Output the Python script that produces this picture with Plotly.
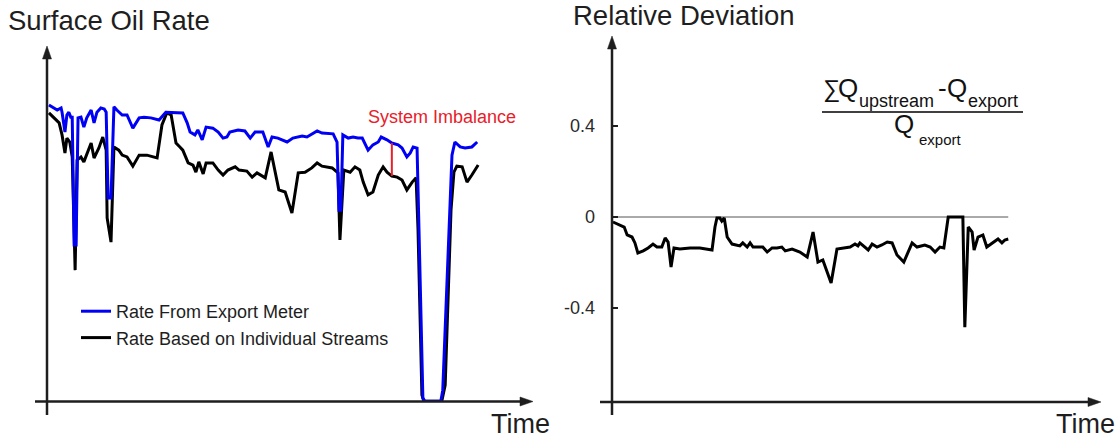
import numpy as np
import plotly.graph_objects as go

W, H = 1117, 441

# ---------------- data ----------------
# Left panel: surface oil rate, time in % of period, rate in % of scale
t_export = [0.4, 1.4, 2.1, 2.9, 3.1, 3.7, 4.1, 4.5, 4.9, 5.2, 5.6, 6.0, 6.4, 7.0, 7.6, 8.2, 9.1, 9.7,
            10.3, 11.1, 11.8, 12.2, 12.6, 13.2, 13.8, 14.4, 15.5, 16.5, 17.7, 19.0, 20.0, 21.4,
            23.1, 24.5, 26.8, 28.0, 28.9, 29.5, 30.5, 31.1, 32.0, 32.8, 34.2, 35.3, 36.3, 37.1,
            37.7, 39.4, 40.8, 41.9, 42.9, 44.5, 45.6, 46.4, 47.6, 49.5, 50.7, 52.6, 53.6, 54.6,
            55.7, 56.7, 59.0, 59.8, 60.2, 60.6, 61.0, 62.1, 63.1, 64.1, 65.0, 66.2, 67.2, 68.3,
            68.9, 70.1, 71.1, 72.4, 73.2, 74.2, 74.9, 75.5, 76.3, 76.7, 77.1, 77.5, 77.9, 81.2,
            81.6, 82.3, 82.9, 83.5, 84.1, 85.2, 86.2, 87.6, 88.7]
rate_export = [83.5, 82.7, 82.1, 82.7, 81.5, 75.9, 80.7, 81.5, 80.1, 80.1, 44.1, 44.1, 79.9, 80.1,
               77.3, 79.9, 82.1, 78.5, 81.5, 82.7, 82.4, 81.5, 57.3, 57.3, 83.0, 82.1, 80.7, 80.7,
               77.0, 79.9, 80.1, 79.9, 79.3, 81.5, 81.5, 81.3, 78.5, 75.9, 75.1, 76.5, 73.7, 77.3,
               77.0, 75.9, 74.2, 74.5, 75.9, 76.5, 76.2, 74.2, 75.9, 75.9, 71.7, 74.5, 74.2, 73.1,
               74.2, 74.8, 74.5, 75.4, 76.2, 75.6, 75.4, 73.1, 53.9, 53.9, 75.1, 74.2, 74.5, 74.2,
               74.2, 70.8, 72.3, 73.1, 74.5, 73.7, 72.8, 72.3, 71.4, 68.9, 70.0, 71.7, 71.4, 48.3,
               20.1, 1.0, 0.1, 0.1, 3.2, 28.6, 52.5, 69.4, 73.1, 71.7, 71.4, 71.7, 73.1]

t_streams = [0.4, 1.9, 2.5, 3.1, 3.7, 4.1, 4.7, 5.2, 5.8, 6.2, 7.0, 7.6, 9.1, 9.7, 10.7, 11.5, 12.2,
             12.4, 13.2, 13.8, 14.8, 15.5, 16.5, 17.7, 19.0, 20.6, 22.7, 23.7, 24.7, 25.6, 26.6,
             27.4, 28.0, 29.1, 30.1, 30.7, 31.3, 32.2, 32.8, 34.2, 35.3, 36.3, 37.3, 38.8, 39.6,
             41.2, 42.3, 43.3, 45.0, 46.2, 47.0, 47.8, 49.1, 50.5, 51.8, 53.2, 54.6, 55.7, 56.7,
             58.8, 60.0, 60.4, 61.2, 62.5, 63.5, 64.5, 65.2, 66.2, 67.2, 68.3, 69.3, 70.1, 71.1,
             72.2, 73.2, 74.2, 75.3, 76.1, 76.5, 76.9, 77.3, 77.7, 81.4, 82.1, 82.7, 83.3, 83.9,
             84.5, 85.6, 86.6, 87.6, 88.9]
rate_streams = [81.3, 79.3, 78.5, 75.1, 70.0, 74.2, 73.1, 68.9, 37.0, 68.0, 68.9, 67.5, 72.8, 68.6,
                71.4, 74.5, 70.8, 51.7, 44.9, 71.7, 70.8, 69.4, 68.9, 66.3, 69.4, 69.4, 68.6, 77.9,
                81.3, 80.7, 72.8, 71.7, 70.8, 67.2, 66.6, 64.6, 67.5, 64.1, 67.2, 67.2, 65.2, 63.8,
                65.2, 66.1, 65.2, 64.9, 63.2, 64.4, 63.0, 70.3, 64.6, 59.6, 59.0, 53.1, 64.4, 64.6,
                65.8, 67.2, 66.3, 65.8, 64.4, 45.5, 65.2, 64.6, 66.1, 65.2, 61.8, 58.2, 59.0, 63.8,
                66.1, 64.6, 63.5, 63.2, 62.4, 59.6, 61.8, 63.0, 48.3, 23.0, 1.8, 0.1, 0.1, 4.6,
                31.4, 53.9, 64.6, 66.3, 66.1, 61.8, 63.8, 66.6]

imbalance_time = 71.1

# Right panel: relative deviation
t_dev = [0.2, 0.6, 1.6, 2.5, 3.1, 4.1, 4.7, 5.3, 6.4, 7.4, 8.4, 9.2, 10.2, 10.9, 11.5, 12.1, 12.7,
         13.9, 16.0, 18.0, 20.5, 21.1, 21.5, 22.1, 22.5, 23.0, 23.6, 24.6, 26.2, 26.8, 27.7, 28.3,
         28.9, 30.9, 31.8, 32.8, 33.8, 34.8, 35.5, 36.9, 38.5, 40.0, 41.2, 42.2, 43.2, 44.9, 46.1,
         47.3, 48.8, 49.8, 50.4, 50.8, 52.5, 53.3, 54.3, 55.3, 56.4, 57.4, 58.4, 59.8, 61.5, 62.5,
         64.1, 65.2, 66.2, 67.2, 68.0, 68.9, 71.9, 72.3, 73.0, 73.8, 74.2, 75.0, 76.0, 76.8, 78.1,
         79.1, 79.9, 80.5, 81.2]
rel_dev = [-0.022, -0.026, -0.035, -0.044, -0.079, -0.088, -0.114, -0.158, -0.149, -0.136, -0.119,
           -0.132, -0.132, -0.092, -0.110, -0.220, -0.136, -0.141, -0.136, -0.136, -0.145, -0.044,
           -0.004, -0.004, -0.018, -0.004, -0.088, -0.119, -0.127, -0.114, -0.132, -0.114, -0.132,
           -0.132, -0.154, -0.136, -0.136, -0.132, -0.149, -0.141, -0.154, -0.176, -0.066, -0.198,
           -0.189, -0.290, -0.141, -0.136, -0.132, -0.119, -0.127, -0.114, -0.145, -0.119, -0.132,
           -0.123, -0.110, -0.114, -0.167, -0.198, -0.114, -0.132, -0.123, -0.132, -0.154, -0.132,
           -0.136, 0.0, 0.0, -0.484, -0.044, -0.066, -0.145, -0.088, -0.079, -0.132, -0.110,
           -0.097, -0.114, -0.101, -0.097]
dev_ticks = [-0.4, 0.0, 0.4]
dev_tick_text = ["-0.4", "0", "0.4"]

# ---------------- helpers for layout placement (pixels -> paper) ----------------
def px(x):
    return x / W

def py(y):
    return 1 - y / H

FONT = "Liberation Sans, Arial, Helvetica, sans-serif"
AX = "#1e1e1e"

fig = go.Figure()
fig.add_trace(go.Scatter(x=t_streams, y=rate_streams, mode="lines",
                         line=dict(color="black", width=3),
                         name="Rate Based on Individual Streams", xaxis="x", yaxis="y"))
fig.add_trace(go.Scatter(x=t_export, y=rate_export, mode="lines",
                         line=dict(color="#0000f5", width=3),
                         name="Rate From Export Meter", xaxis="x", yaxis="y"))
fig.add_trace(go.Scatter(x=t_dev, y=rel_dev, mode="lines",
                         line=dict(color="black", width=3),
                         showlegend=False, xaxis="x2", yaxis="y2"))

hidden = dict(showgrid=False, zeroline=False, showline=False, showticklabels=False, ticks="")

shapes = []
def seg(x0, y0, x1, y1, color=AX, width=2.5):
    shapes.append(dict(type="line", xref="paper", yref="paper",
                       x0=px(x0), y0=py(y0), x1=px(x1), y1=py(y1),
                       line=dict(color=color, width=width)))

def tri(points, color=AX):
    p = " L ".join(f"{px(a)},{py(b)}" for a, b in points)
    shapes.append(dict(type="path", xref="paper", yref="paper", path=f"M {p} Z",
                       fillcolor=color, line=dict(color=color, width=0.5)))

# left axes with arrows
seg(47, 415, 47, 56)
tri([(47, 46), (42.5, 59), (51.5, 59)])
seg(35, 401.5, 522, 401.5)
tri([(533, 401.5), (520, 397), (520, 406)])
# right axes with arrows
seg(612, 415, 612, 46)
tri([(612, 36), (607.5, 49), (616.5, 49)])
seg(600, 402, 1090, 402)
tri([(1101, 402), (1088, 397.5), (1088, 406.5)])
# fraction bar
seg(822, 112, 1023, 112, color="black", width=1.3)

# zero reference line on the deviation panel
shapes.append(dict(type="line", xref="x2", yref="y2", x0=t_dev[0], x1=t_dev[-1], y0=0, y1=0,
                   line=dict(color="#555555", width=1), layer="below"))
# system imbalance marker
y_low = float(np.interp(imbalance_time, t_streams, rate_streams))
y_high = float(np.interp(imbalance_time, t_export, rate_export))
shapes.append(dict(type="line", xref="x", yref="y", x0=imbalance_time, x1=imbalance_time,
                   y0=y_low, y1=y_high, line=dict(color="#e8202a", width=2)))

def label(text, x, y, size, color="#1e1e1e", xanchor="left", yanchor="middle"):
    return dict(text=text, x=px(x), y=py(y), xref="paper", yref="paper", showarrow=False,
                xanchor=xanchor, yanchor=yanchor, font=dict(family=FONT, size=size, color=color))

annotations = [
    label("Surface Oil Rate", 6, 20, 27.5),
    label("Relative Deviation", 571, 15, 27.5),
    label("Time", 489, 424, 27),
    label("Time", 1054, 424, 27),
    label("System Imbalance", 366, 117, 18, color="#e8202a"),
    # formula: numerator
    label("∑", 821, 89, 24, color="#111"),
    label("Q", 836, 88, 26, color="#111"),
    label("upstream", 857, 101, 18, color="#111"),
    label("-", 936, 88, 26, color="#111"),
    label("Q", 945, 88, 26, color="#111"),
    label("export", 966, 101, 18, color="#111"),
    # formula: denominator
    label("Q", 892, 124, 26, color="#111"),
    label("export", 917, 139, 15, color="#111"),
]

fig.update_layout(
    width=W, height=H,
    margin=dict(l=0, r=0, t=0, b=0),
    paper_bgcolor="white", plot_bgcolor="white",
    font=dict(family=FONT, color="#1e1e1e"),
    xaxis=dict(domain=[px(47), px(532)], range=[0, 100], anchor="y", **hidden),
    yaxis=dict(domain=[py(401.5), py(46.5)], range=[0, 100], anchor="x", **hidden),
    xaxis2=dict(domain=[px(612), px(1100)], range=[0, 100], anchor="y2", **hidden),
    yaxis2=dict(domain=[py(402), py(37)], range=[-0.8132, 0.7912], anchor="x2",
                showgrid=False, zeroline=False, showline=False,
                tickvals=dev_ticks, ticktext=dev_tick_text, ticks="inside", ticklen=6,
                tickwidth=2, tickcolor=AX, ticklabelstandoff=16,
                tickfont=dict(family=FONT, size=18, color="#2a2a2a")),
    showlegend=True,
    legend=dict(x=px(76), y=py(293), xanchor="left", yanchor="top", traceorder="reversed",
                bgcolor="rgba(0,0,0,0)", font=dict(family=FONT, size=18, color="#1e1e1e"),
                tracegroupgap=0),
    shapes=shapes,
    annotations=annotations,
)

fig.write_html("out.html")
